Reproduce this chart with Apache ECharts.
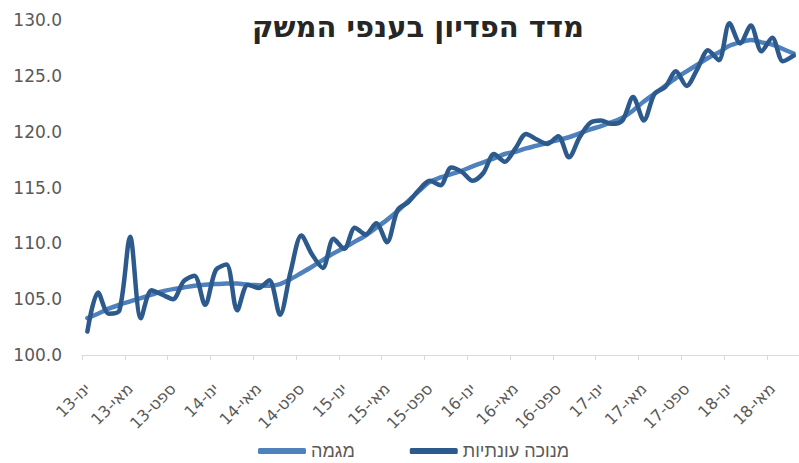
<!DOCTYPE html>
<html>
<head>
<meta charset="utf-8">
<script src="https://cdn.jsdelivr.net/npm/echarts@6/dist/echarts.min.js"></script>
<style>
html,body{margin:0;padding:0;background:#fff;}
#chart{width:799px;height:463px;}
</style>
</head>
<body>
<div id="chart"></div>
<script>
const monthNames = ['ינו','פבר','מרץ','אפר','מאי','יונ','יול','אוג','ספט','אוק','נוב','דצמ'];
const years = ['13','14','15','16','17','18'];
const categories = [];
years.forEach(function (y) { monthNames.forEach(function (m) { categories.push(m + '-' + y); }); });
categories.length = 67; // ינו-13 … יול-18

const seasonallyAdjusted = [
  102.1, 105.6, 103.7, 104.0, 110.6, 103.3, 105.8, 105.4, 105.0, 106.6, 107.1, 104.5,
  107.6, 108.1, 104.0, 106.3, 106.0, 106.7, 103.6, 107.5, 110.7, 109.0, 107.8, 110.4,
  109.5, 111.4, 110.8, 111.8, 110.1, 113.0, 113.7, 114.8, 115.6, 115.2, 116.8, 116.4,
  115.6, 116.3, 118.0, 117.3, 118.5, 119.8, 119.3, 118.9, 119.6, 117.7, 119.5, 120.8,
  121.0, 120.7, 121.0, 123.1, 121.0, 123.4, 124.0, 125.4, 124.1, 125.6, 127.3, 126.4,
  129.7, 127.9, 129.5, 127.2, 128.4, 126.3, 126.8
];
const trend = [
  103.3, 103.7, 104.15, 104.5, 104.8, 105.1, 105.4, 105.7, 105.9, 106.05, 106.2, 106.3,
  106.35, 106.4, 106.4, 106.3, 106.25, 106.2, 106.35, 106.8, 107.35, 107.9, 108.5, 109.1,
  109.6, 110.15, 110.7, 111.4, 112.1, 112.9, 113.8, 114.7, 115.5, 115.9, 116.2, 116.5,
  116.9, 117.25, 117.6, 118.0, 118.2, 118.5, 118.75, 119.0, 119.25, 119.5, 119.85, 120.2,
  120.5, 120.85, 121.25, 121.9, 122.7, 123.4, 124.1, 124.8, 125.4, 126.0, 126.6, 127.1,
  127.7, 128.0, 128.2, 128.0, 127.8, 127.4, 127.0
];
const yTicks = { min: 100, max: 130, interval: 5 };
const titleText = 'מדד הפדיון בענפי המשק';
const seriesNames = ['מגמה', 'מנוכה עונתיות'];

const FONT = 'DejaVu Sans';
const chart = echarts.init(document.getElementById('chart'), null, { renderer: 'svg' });
chart.setOption({
  animation: false,
  backgroundColor: '#ffffff',
  title: {
    text: titleText,
    left: 413, top: 7, textAlign: 'center',
    textStyle: { fontFamily: FONT, fontSize: 29, fontWeight: 'bold', color: '#262626' }
  },
  legend: {
    data: seriesNames,
    left: 258, top: 442, padding: 0,
    itemWidth: 48, itemHeight: 6, itemGap: 55,
    icon: 'roundRect',
    textStyle: { fontFamily: 'Liberation Sans', fontSize: 18, lineHeight: 18, color: '#595959' }
  },
  grid: { left: 82, right: -3, top: 20, bottom: 108, containLabel: false },
  xAxis: {
    type: 'category',
    data: categories,
    boundaryGap: true,
    axisLine: { show: true, lineStyle: { color: '#d9d9d9', width: 1 } },
    axisTick: { show: true, interval: 3, length: 5, lineStyle: { color: '#d9d9d9' } },
    axisLabel: {
      interval: 3, rotate: 45, margin: 31,
      fontFamily: FONT, fontSize: 16, color: '#595959'
    },
    splitLine: { show: false }
  },
  yAxis: {
    type: 'value',
    min: yTicks.min, max: yTicks.max, interval: yTicks.interval,
    axisLine: { show: false },
    axisTick: { show: false },
    splitLine: { show: false },
    axisLabel: {
      margin: 20,
      fontFamily: FONT, fontSize: 17, color: '#595959',
      formatter: function (v) { return v.toFixed(1); }
    }
  },
  series: [
    {
      name: seriesNames[0], type: 'line', data: trend, smooth: 0.3,
      symbol: 'none', z: 2,
      lineStyle: { color: '#4f81bd', width: 4.5, cap: 'round' },
      itemStyle: { color: '#4f81bd' }
    },
    {
      name: seriesNames[1], type: 'line', data: seasonallyAdjusted, smooth: 0.3,
      symbol: 'none', z: 3,
      lineStyle: { color: '#2d5a8c', width: 4.5, cap: 'round', join: 'round' },
      itemStyle: { color: '#2d5a8c' }
    }
  ]
});
</script>
</body>
</html>
